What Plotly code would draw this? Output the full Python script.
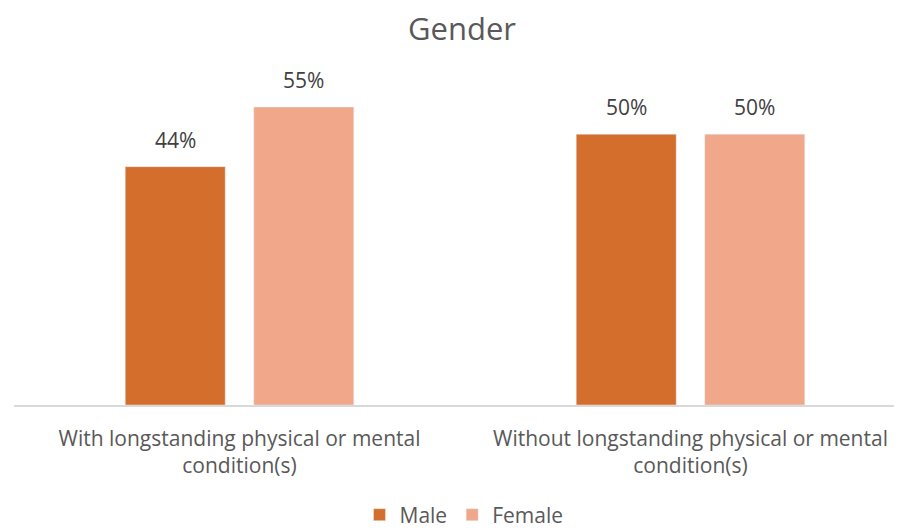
import plotly.graph_objects as go

categories = ["With longstanding physical or mental<br>condition(s)",
              "Without longstanding physical or mental<br>condition(s)"]
male = [0.44, 0.50]
female = [0.55, 0.50]
male_labels = ["44%", "50%"]
female_labels = ["55%", "50%"]

FONT = "Open Sans, Lato, sans-serif"
TXT = "#595959"
LBL = "#404040"

# page has an 8px body margin; figure is sized to fit the window from there
W, H = 894, 522

fig = go.Figure()
fig.add_trace(go.Bar(name="Male", x=categories, y=male, marker_color="#D36E2C"))
fig.add_trace(go.Bar(name="Female", x=categories, y=female, marker_color="#F1A78A"))

annotations = []
for cat, v, t in zip(categories, male, male_labels):
    annotations.append(dict(x=cat, y=v, text=t, xshift=-64.25, yshift=11,
                            yanchor="bottom", showarrow=False,
                            font=dict(size=21, color=LBL, family=FONT)))
for cat, v, t in zip(categories, female, female_labels):
    annotations.append(dict(x=cat, y=v, text=t, xshift=64.25, yshift=11,
                            yanchor="bottom", showarrow=False,
                            font=dict(size=21, color=LBL, family=FONT)))

fig.update_layout(
    width=W, height=H,
    paper_bgcolor="white", plot_bgcolor="white",
    margin=dict(l=6, r=0, t=72, b=125),
    barmode="group", bargap=0.43, bargroupgap=0.222,
    font=dict(family=FONT, color=TXT),
    annotations=annotations,
    title=dict(text="Gender", x=454/W, xref="container", xanchor="center",
               y=1 - 21/H, yref="container", yanchor="middle",
               font=dict(size=31, color=TXT, family=FONT)),
    legend=dict(orientation="h", x=456/W, xref="container", xanchor="center",
                y=1 - 507/H, yref="container", yanchor="middle",
                font=dict(size=21, color=TXT, family=FONT),
                itemwidth=30, traceorder="normal"),
    xaxis=dict(range=[-0.5, 1.469], showline=True, linecolor="#D9D9D9",
               linewidth=1.5, ticks="", tickfont=dict(size=21, color=TXT),
               ticklabelstandoff=14, showgrid=False),
    yaxis=dict(range=[0, 0.6], visible=False, showgrid=False),
)

fig.write_html("out.html")
